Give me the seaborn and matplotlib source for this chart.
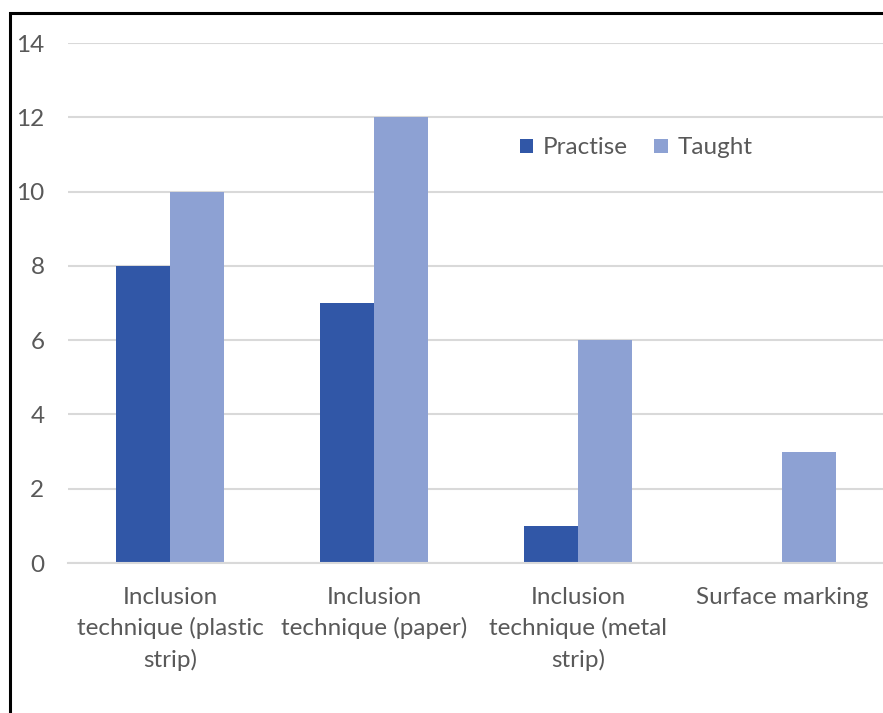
import matplotlib
matplotlib.use("Agg")
import matplotlib.pyplot as plt
from matplotlib.patches import Patch, Rectangle
import seaborn as sns
import pandas as pd

categories = [
    "Inclusion\ntechnique (plastic\nstrip)",
    "Inclusion\ntechnique (paper)",
    "Inclusion\ntechnique (metal\nstrip)",
    "Surface marking",
]
series_names = ["Practise", "Taught"]
practise = [8, 7, 1, 0]
taught = [10, 12, 6, 3]
y_ticks = [0, 2, 4, 6, 8, 10, 12, 14]

colors = {"Practise": "#3157A7", "Taught": "#8DA1D3"}
text_color = "#595959"
fs = 17.5

df = pd.DataFrame({
    "category": categories * 2,
    "series": [series_names[0]] * len(categories) + [series_names[1]] * len(categories),
    "value": practise + taught,
})

sns.set_theme(style="white")
plt.rcParams["font.family"] = ["Lato", "DejaVu Sans"]

fig = plt.figure(figsize=(8.83, 7.13), dpi=100)
ax = fig.add_axes([68 / 883, 150 / 713, (884 - 68) / 883, 520 / 713])

sns.barplot(data=df, x="category", y="value", hue="series", order=categories,
            hue_order=series_names, palette=colors, width=0.53, gap=0,
            saturation=1, ax=ax, legend=False, linewidth=0)

ax.set_ylim(0, 14)
ax.set_yticks(y_ticks)
ax.set_xlim(-0.5, len(categories) - 0.5)
ax.yaxis.grid(True, color="#D9D9D9", linewidth=1.5)
ax.set_axisbelow(True)
for side in ["left", "right", "top"]:
    ax.spines[side].set_visible(False)
ax.spines["bottom"].set_color("#D9D9D9")
ax.spines["bottom"].set_linewidth(1.5)
ax.set_xlabel("")
ax.set_ylabel("")
ax.tick_params(axis="y", length=0, pad=17, labelsize=fs, labelcolor=text_color)
ax.tick_params(axis="x", length=0, pad=17, labelsize=fs, labelcolor=text_color)
for lbl in ax.get_xticklabels():
    lbl.set_linespacing(1.52)
    lbl.set_horizontalalignment("center")

handles = [Patch(facecolor=colors[s], edgecolor="none", label=s) for s in series_names]
leg = fig.legend(handles=handles, loc="center", bbox_to_anchor=(636 / 883, 1 - 148 / 713),
                 ncol=2, frameon=False, fontsize=fs, handlelength=0.55, handleheight=0.55,
                 handletextpad=0.4, columnspacing=1.1)
for t in leg.get_texts():
    t.set_color(text_color)

# outer frame line along the left and top edges
fig.patches.append(Rectangle((10 / 883, -0.1), 1.2, 1 - 13 / 713 + 0.1,
                             transform=fig.transFigure, fill=False,
                             edgecolor="black", linewidth=2.2, zorder=10))

fig.savefig("out.png", dpi=100)
